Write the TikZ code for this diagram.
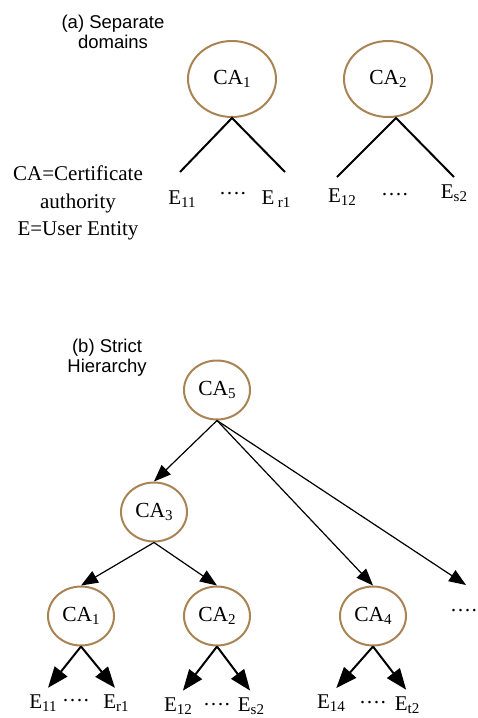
\documentclass[tikz,border=0pt]{standalone}
\usepackage{fontspec}
\setmainfont{Liberation Serif}
\newfontfamily\headfont{Liberation Sans}
\usetikzlibrary{calc, shapes, arrows.meta}
\definecolor{caborder}{RGB}{168,132,84}

\begin{document}
\begin{tikzpicture}[x=1pt, y=-1pt,
		caNode/.style={ellipse, draw=caborder, line width=2pt, inner sep=0pt, font=\fontsize{21.5}{24}\selectfont},
		caBig/.style={caNode, minimum width=88pt, minimum height=76pt},
		caSmall/.style={caNode, minimum width=66pt, minimum height=59pt},
		leafLabel/.style={anchor=base, inner sep=0pt, font=\fontsize{21}{24}\selectfont},
		headLabel/.style={anchor=north, align=center, inner sep=0pt, font=\headfont\fontsize{18.5}{19.5}\selectfont},
		branchLine/.style={line width=2pt},
		linkArrow/.style={line width=1.2pt, -{Triangle[length=17pt,width=13pt]}},
		leafArrow/.style={line width=2pt, -{Triangle[length=21pt,width=16pt]}, shorten >=8pt}]
				\newcommand{\mysub}[1]{\raisebox{-3pt}{\fontsize{15}{15}\selectfont #1}}
				\newcommand{\mydots}{····}
				\useasboundingbox (0,0) rectangle (477,718);
				%(a) Separate domains
				\node [headLabel] (titleA) at (113,15) {(a) Separate\\domains};
				\coordinate (centerA1) at (232,79);
				\coordinate (centerA2) at (388,79);
				\node [caBig] (caA1) at (centerA1) {CA\mysub{1}};
				\node [caBig] (caA2) at (centerA2) {CA\mysub{2}};
				%Branch ends below each CA
				\coordinate (endA1l) at (180,172);
				\coordinate (endA1r) at (285,172);
				\coordinate (endA2l) at (337,177);
				\coordinate (endA2r) at (454,177);
				\draw [branchLine] (endA1l) -- (caA1.south) -- (endA1r);
				\draw [branchLine] (endA2l) -- ([xshift=8pt]caA2.south) -- (endA2r);
				%The entities
				\node [leafLabel] (eA11) at (182,204) {E\mysub{11}};
				\node [leafLabel] (dotsA1) at (233,200) {\mydots};
				\node [leafLabel] (eAr1) at (276,204) {E\,\mysub{r1}};
				\node [leafLabel] (eA12) at (342,202) {E\mysub{12}};
				\node [leafLabel] (dotsA2) at (395,201) {\mydots};
				\node [leafLabel] (eAs2) at (454,198) {E\mysub{s2}};
				%Legend
				\node [anchor=north, align=center, inner sep=0pt, font=\fontsize{21}{27.5}\selectfont] (legend) at (78,166) {CA=Certificate\\authority\\E=User Entity};
				%(b) Strict hierarchy
				\node [headLabel] (titleB) at (107,339) {(b) Strict\\Hierarchy};
				\coordinate (center5) at (217,390);
				\coordinate (center3) at (154,512);
				\coordinate (center1) at (81,616);
				\coordinate (center2) at (217,616);
				\coordinate (center4) at (373,616);
				\node [caSmall] (caB5) at (center5) {CA\mysub{5}};
				\node [caSmall] (caB3) at (center3) {CA\mysub{3}};
				\node [caSmall] (caB1) at (center1) {CA\mysub{1}};
				\node [caSmall] (caB2) at (center2) {CA\mysub{2}};
				\node [caSmall] (caB4) at (center4) {CA\mysub{4}};
				\coordinate (moreEnd) at (466,585);
				\node [leafLabel] (dotsMore) at (464,617) {\mydots};
				%Arrows between the CAs
				\draw [linkArrow] (caB5.south) -- (caB3.north);
				\draw [linkArrow] (caB5.south) -- (caB4.north);
				\draw [linkArrow] (caB5.south) -- (moreEnd);
				\draw [linkArrow] (caB3.south) -- (caB1.north);
				\draw [linkArrow] (caB3.south) -- (caB2.north);
				%Entities under each CA
				\node [leafLabel] (eB11) at (43,708) {E\mysub{11}};
				\node [leafLabel] (dotsB1) at (76,707) {\mydots};
				\node [leafLabel] (eBr1) at (116,708) {E\mysub{r1}};
				\node [leafLabel] (eB12) at (178,711) {E\mysub{12}};
				\node [leafLabel] (dotsB2) at (217,711) {\mydots};
				\node [leafLabel] (eBs2) at (251,711) {E\mysub{s2}};
				\node [leafLabel] (eB14) at (331,708) {E\mysub{14}};
				\node [leafLabel] (dotsB4) at (373,709) {\mydots};
				\node [leafLabel] (eBt2) at (407,710) {E\mysub{t2}};
				\draw [leafArrow] (caB1.south) -- (eB11.north);
				\draw [leafArrow] (caB1.south) -- ([xshift=4pt]eBr1.north);
				\draw [leafArrow] (caB2.south) -- (eB12.north);
				\draw [leafArrow] (caB2.south) -- ([xshift=4pt]eBs2.north);
				\draw [leafArrow] (caB4.south) -- (eB14.north);
				\draw [leafArrow] (caB4.south) -- ([xshift=4pt]eBt2.north);
\end{tikzpicture}
\end{document}
